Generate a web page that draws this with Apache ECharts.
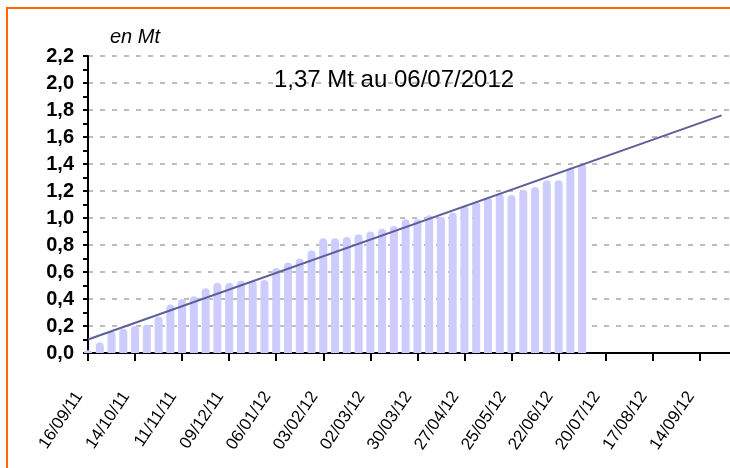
<!DOCTYPE html>
<html>
<head>
<meta charset="utf-8">
<script src="https://cdn.jsdelivr.net/npm/echarts@6/dist/echarts.min.js"></script>
<style>
  html, body { margin: 0; padding: 0; background: #fff; }
  #chart { width: 730px; height: 468px; }
</style>
</head>
<body>
<div id="chart"></div>
<script>
  // données hebdomadaires (vendredi), en Mt
  var startDate = '2011-09-16';
  var weeklyValues = [
    0.02, 0.08, 0.16, 0.18, 0.20, 0.21, 0.27, 0.36, 0.40, 0.42,
    0.48, 0.52, 0.52, 0.535, 0.535, 0.54, 0.63, 0.67, 0.70, 0.76,
    0.85, 0.85, 0.86, 0.88, 0.90, 0.92, 0.94, 0.99, 0.99, 1.02,
    1.01, 1.04, 1.09, 1.12, 1.15, 1.18, 1.17, 1.21, 1.23, 1.28,
    1.28, 1.375, 1.40
  ];
  // droite de tendance
  var trendDates = ['2011-09-16', '2012-09-27'];
  var trendValues = [0.10, 1.76];
  // graduations de l'axe des dates (toutes les 4 semaines)
  var tickDates = [
    '2011-09-16', '2011-10-14', '2011-11-11', '2011-12-09', '2012-01-06',
    '2012-02-03', '2012-03-02', '2012-03-30', '2012-04-27', '2012-05-25',
    '2012-06-22', '2012-07-20', '2012-08-17', '2012-09-14'
  ];
  var yTicks = [0, 0.2, 0.4, 0.6, 0.8, 1.0, 1.2, 1.4, 1.6, 1.8, 2.0, 2.2];
  var annotation = '1,37 Mt au 06/07/2012';

  var DAY = 24 * 3600 * 1000;
  function toTime(s) {
    var p = s.split('-');
    return Date.UTC(+p[0], +p[1] - 1, +p[2]);
  }
  var t0 = toTime(startDate);
  var barData = weeklyValues.map(function (v, i) {
    return [t0 + i * 7 * DAY, v];
  });
  var trendData = trendDates.map(function (d, i) {
    return [toTime(d), trendValues[i]];
  });
  var tickValues = tickDates.map(toTime);
  function pad(n) { return (n < 10 ? '0' : '') + n; }

  var ec = echarts.init(document.getElementById('chart'));
  var option = {
    animation: false,
    textStyle: { fontFamily: 'Liberation Sans, Arial, sans-serif' },
    graphic: [{
      type: 'rect',
      shape: { x: 7, y: 8, width: 760, height: 500 },
      style: { fill: 'none', stroke: '#ff6600', lineWidth: 2 },
      z: 100
    }],
    title: [{
      text: 'en Mt',
      left: 105, top: 22,
      textStyle: { fontSize: 20, fontStyle: 'italic', fontWeight: 'normal', color: '#000' }
    }, {
      text: annotation,
      left: 389, top: 63, textAlign: 'center',
      textStyle: { fontSize: 24, fontWeight: 'normal', color: '#000' }
    }],
    grid: { left: 88, top: 56, right: 0, bottom: 115 },
    xAxis: {
      type: 'value',
      min: t0,
      max: t0 + 382 * DAY,
      splitLine: { show: false },
      axisLine: { lineStyle: { color: '#000', width: 2 } },
      axisTick: { customValues: tickValues, length: 8, lineStyle: { color: '#000', width: 2 } },
      axisLabel: {
        customValues: tickValues,
        rotate: 56,
        margin: 27,
        padding: [0, 16, 0, 0],
        fontSize: 17,
        color: '#000',
        formatter: function (v) {
          var d = new Date(v);
          return pad(d.getUTCDate()) + '/' + pad(d.getUTCMonth() + 1) + '/' + pad(d.getUTCFullYear() % 100);
        }
      }
    },
    yAxis: {
      type: 'value',
      min: yTicks[0],
      max: yTicks[yTicks.length - 1],
      interval: 0.2,
      axisLine: { show: true, lineStyle: { color: '#000', width: 2 } },
      axisTick: { show: true, length: 5, lineStyle: { color: '#000', width: 2 } },
      minorTick: { show: true, splitNumber: 2, length: 5, lineStyle: { color: '#000', width: 2 } },
      axisLabel: {
        margin: 14,
        fontSize: 20,
        fontWeight: 'bold',
        color: '#000',
        formatter: function (v) { return v.toFixed(1).replace('.', ','); }
      },
      splitLine: {
        show: true,
        lineStyle: { color: '#bdbdbd', width: 2, type: [5, 7] }
      }
    },
    series: [{
      type: 'bar',
      data: barData,
      barWidth: 8,
      itemStyle: { color: '#ccccff', borderRadius: [4, 4, 0, 0] },
      z: 2
    }, {
      type: 'line',
      data: trendData,
      symbol: 'none',
      lineStyle: { color: '#5e5e99', width: 2 },
      z: 3
    }]
  };
  ec.setOption(option);
</script>
</body>
</html>
